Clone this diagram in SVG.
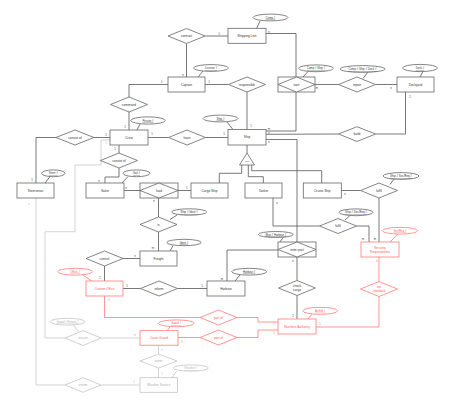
<svg xmlns="http://www.w3.org/2000/svg" width="454" height="406" viewBox="0 0 454 406">
<style>
text{font-family:"Liberation Sans",Arial,sans-serif;text-anchor:middle;dominant-baseline:central;}
.e rect,.e polygon,.r ellipse,.a ellipse{fill:#fff;stroke:#666;stroke-width:0.8}
.e text{font-size:3.2px;fill:#333}
.a text{font-size:2.8px;fill:#333;text-decoration:underline}
.red rect,.red polygon,.red ellipse{stroke:#ff7b7b !important}
.red text{fill:#ff5a5a !important}
.gr rect,.gr polygon,.gr ellipse{stroke:#c4c4c4 !important}
.gr text{fill:#b0b0b0 !important}
.c polyline,.c line{fill:none;stroke:#555;stroke-width:0.8}
.c .rl{stroke:#ff7b7b}
.c .gl{stroke:#c8c8c8}
.lb text{font-size:2.8px;fill:#444}
.lb .rt{fill:#ff6a6a}
.lb .gt{fill:#b8b8b8}
</style>
<rect width="454" height="406" fill="#fff"/>
<g id="connectors" class="c">
<polyline points="205,36 228,36"/>
<polyline points="186.5,43.5 186.5,77"/>
<polyline points="266,33.5 296,33.5 296,77"/>
<polyline points="168,84.5 129,84.5 129,97"/>
<polyline points="205,84.5 228.5,84.5"/>
<polyline points="247,92 247,129.5"/>
<polyline points="315,84.5 338.5,84.5"/>
<polyline points="375.5,84.5 397,84.5"/>
<polyline points="405.5,92 405.5,134 375.5,134"/>
<polyline points="296,92 296,131 266,131"/>
<polyline points="266,134.3 338.5,134"/>
<polyline points="266,139.5 297,139.5 297,242"/>
<polyline points="129,112 129,130"/>
<polyline points="94,137.5 110,137.5"/>
<polyline points="56,137.5 36,137.5 36,183"/>
<polyline points="119,145 119,153"/>
<polyline points="119,168 119,177 105,177 105,183"/>
<polyline points="148,137.5 168.5,137.5"/>
<polyline points="205.5,137.5 228,137.5"/>
<polyline points="247,145 247,153"/>
<polyline points="241.7,165 241.7,173.3 219.3,173.3 219.3,183"/>
<polyline points="248.3,165 248.3,176.7 263.3,176.7 263.3,183"/>
<polyline points="251.7,165 251.7,170.7 321.7,170.7 321.7,183"/>
<polyline points="124,190.5 140,190.5"/>
<polyline points="178,190.5 191,190.5"/>
<polyline points="158.5,198 158.5,217"/>
<polyline points="158.5,232 158.5,251"/>
<polyline points="341,190.5 360.5,190.5"/>
<polyline points="379,198 379,242"/>
<polyline points="273,198 273,226 319.5,226"/>
<polyline points="356.5,226 369,226 369,242"/>
<polyline points="123,258.5 140,258.5"/>
<polyline points="104.5,266 104.5,281"/>
<polyline points="123,288.5 140.5,288.5"/>
<polyline points="177.5,288.5 207,288.5"/>
<polyline points="227,281 227,250 278,250"/>
<polyline points="297,257 297,280.5"/>
<polyline points="297,295.5 297,319"/>
<polyline class="rl" points="379,257 379,281.5"/>
<polyline class="rl" points="379,296.5 379,327 316,327"/>
<polyline class="rl" points="104.5,296 104.5,317.5 200,317.5"/>
<polyline class="rl" points="237,317.5 258,317.5 258,322 278,322"/>
<polyline class="rl" points="178,337.5 200,337.5"/>
<polyline class="rl" points="237,337.5 258,337.5 258,330 278,330"/>
<polyline class="gl" points="110,140 101,140 101,165 75,165 75,231.7 45,231.7 45,338 65,338"/>
<polyline class="gl" points="101,338 140,338"/>
<polyline class="gl" points="36,198 36,385 65,385"/>
<polyline class="gl" points="101,385 140,385"/>
<polyline class="gl" points="158.5,345 158.5,354"/>
<polyline class="gl" points="158.5,368 158.5,378"/>
<line x1="260" y1="21" x2="256.7" y2="28.3"/>
<line x1="203" y1="71" x2="198" y2="77"/>
<line x1="308" y1="71.5" x2="303" y2="77"/>
<line x1="368" y1="72" x2="363" y2="78.5"/>
<line x1="423" y1="71.5" x2="420" y2="77"/>
<line x1="140" y1="124" x2="137" y2="130"/>
<line x1="226.7" y1="121.7" x2="233" y2="129.5"/>
<line x1="50" y1="176.5" x2="45" y2="183"/>
<line x1="128" y1="176.5" x2="122" y2="183"/>
<line x1="394" y1="179" x2="390" y2="184.5"/>
<line x1="350" y1="215.5" x2="345" y2="220"/>
<line x1="177" y1="215" x2="170" y2="219.5"/>
<line x1="173" y1="245.7" x2="170" y2="251"/>
<line x1="283" y1="237.5" x2="280" y2="242"/>
<line x1="240" y1="275" x2="235" y2="281"/>
<line class="rl" x1="398" y1="234" x2="390" y2="242"/>
<line class="rl" x1="83" y1="275" x2="91.7" y2="281"/>
<line class="rl" x1="311.7" y1="314.3" x2="308" y2="319"/>
<line class="rl" x1="170" y1="326.7" x2="167" y2="331"/>
<line class="gl" x1="73.3" y1="325" x2="78.3" y2="331.5"/>
<line class="gl" x1="176.7" y1="371" x2="171.7" y2="378"/>
</g>
<g id="edge-labels" class="lb">
<text x="219" y="34">1</text><text x="183" y="75">n</text><text x="269" y="31.5">n</text>
<text x="161.7" y="82">1</text><text x="209" y="82">1</text><text x="317" y="87.5">m</text>
<text x="391" y="87.5">n</text><text x="410" y="96.5">1</text><text x="125" y="127">1</text>
<text x="106" y="134.5">1</text><text x="32" y="179.5">1</text><text x="115" y="148.5">1</text>
<text x="99" y="180.5">n</text><text x="152" y="134">1</text><text x="224" y="134">1</text>
<text x="251" y="126">1</text><text x="269" y="128.5">m</text><text x="269" y="132.8">n</text>
<text x="269" y="141.5">n</text><text x="345" y="193.5">n</text><text x="186.7" y="187.5">1</text>
<text x="126" y="187.5">n</text><text x="154" y="201">n</text><text x="153" y="247.5">m</text>
<text x="135" y="255.5">n</text><text x="100" y="277.5">1</text><text x="127" y="285.5">1</text>
<text x="202" y="285.5">1</text><text x="222" y="278.5">m</text><text x="277" y="202.5">n</text>
<text x="293" y="260.5">n</text><text x="293" y="316">1</text><text x="363" y="238.5">m</text>
<text x="375" y="238.5">m</text>
<text class="rt" x="377" y="260.5">n</text><text class="rt" x="320" y="323.5">1</text>
<text class="rt" x="109" y="299.5">1</text><text class="rt" x="274" y="324">1</text>
<text class="rt" x="274" y="333">1</text><text class="rt" x="182" y="342">1</text>
<text class="gt" x="106" y="143">1</text><text class="gt" x="29" y="203.5">n</text>
<text class="gt" x="135" y="334.5">m</text><text class="gt" x="134" y="381.5">1</text>
<text class="gt" x="162" y="349.5">n</text><text class="gt" x="162" y="373.5">1</text>
</g>
<g id="shipping-line" class="e"><rect x="228" y="28.3" width="38" height="15"/><text x="247" y="35.8">Shipping Line</text></g>
<g id="captain" class="e"><rect x="168" y="77" width="37" height="15"/><text x="186.5" y="84.5">Captain</text></g>
<g id="dockyard" class="e"><rect x="397" y="77" width="37" height="15"/><text x="415.5" y="84.5">Dockyard</text></g>
<g id="crew" class="e"><rect x="110" y="130" width="38" height="15"/><text x="129" y="137.5">Crew</text></g>
<g id="ship" class="e"><rect x="228" y="129.5" width="38" height="15.5"/><text x="247" y="137.3">Ship</text></g>
<g id="steersman" class="e"><rect x="17" y="183" width="37" height="15"/><text x="35.5" y="190.5">Steersman</text></g>
<g id="sailor" class="e"><rect x="86" y="183" width="38" height="15"/><text x="105" y="190.5">Sailor</text></g>
<g id="cargo-ship" class="e"><rect x="191" y="183" width="37" height="15"/><text x="209.5" y="190.5">Cargo Ship</text></g>
<g id="tanker" class="e"><rect x="245" y="183" width="37" height="15"/><text x="263.5" y="190.5">Tanker</text></g>
<g id="cruise-ship" class="e"><rect x="303.3" y="183" width="38" height="15"/><text x="322.3" y="190.5">Cruise Ship</text></g>
<g id="freight" class="e"><rect x="140" y="251" width="37" height="15"/><text x="158.5" y="258.5">Freight</text></g>
<g id="harbour" class="e"><rect x="207" y="281" width="38" height="15"/><text x="226" y="288.5">Harbour</text></g>
<g id="custom-office" class="e red"><rect x="86" y="281" width="37" height="15"/><text x="104.5" y="288.5">Custom Office</text></g>
<g id="security-requirements" class="e red"><rect x="361" y="242" width="38" height="15"/><text x="380" y="247.5">Security</text><text x="380" y="251.5">Requirements</text></g>
<g id="maritime-authority" class="e red"><rect x="278" y="319" width="38" height="15"/><text x="297" y="326.5">Maritime Authority</text></g>
<g id="coast-guard" class="e red"><rect x="140" y="330.7" width="38" height="14.5"/><text x="159" y="338">Coast Guard</text></g>
<g id="weather-service" class="e gr"><rect x="140" y="377.7" width="37.5" height="14.6"/><text x="158.7" y="385">Weather Service</text></g>
<g id="own" class="e"><rect x="278" y="77" width="37" height="15"/><polygon points="278,84.5 296.5,77 315,84.5 296.5,92"/><text x="296.5" y="84.5">own</text></g>
<g id="load" class="e"><rect x="140" y="183" width="38" height="15"/><polygon points="140,190.5 159,183 178,190.5 159,198"/><text x="159" y="190.5">load</text></g>
<g id="enter-port" class="e"><rect x="278" y="242" width="38" height="15"/><polygon points="278,249.5 297,242 316,249.5 297,257"/><text x="297" y="249.5">enter port</text></g>
<g id="isa" class="e"><polygon points="247,153 239.5,165 254.5,165"/><text x="247" y="161.5" style="font-size:2.4px">is a</text></g>
<g id="contract" class="e"><polygon points="168,36 186.5,28.5 205,36 186.5,43.5"/><text x="186.5" y="36">contract</text></g>
<g id="responsible" class="e"><polygon points="228.5,84.5 247,77 265.5,84.5 247,92"/><text x="247" y="84.5">responsible</text></g>
<g id="repair" class="e"><polygon points="338.5,84.5 357,77 375.5,84.5 357,92"/><text x="357" y="84.5">repair</text></g>
<g id="command" class="e"><polygon points="110.5,104.5 129,97 147.5,104.5 129,112"/><text x="129" y="104.5">command</text></g>
<g id="consist-of-1" class="e"><polygon points="56,137.5 75,130 94,137.5 75,145"/><text x="75" y="137.5">consist of</text></g>
<g id="have" class="e"><polygon points="168.5,137.5 187,130 205.5,137.5 187,145"/><text x="187" y="137.5">have</text></g>
<g id="build" class="e"><polygon points="338.5,134 357,126.7 375.5,134 357,141.5"/><text x="357" y="134">build</text></g>
<g id="consist-of-2" class="e"><polygon points="100.5,160.5 119,153 137.5,160.5 119,168"/><text x="119" y="160.5">consist of</text></g>
<g id="fulfil-1" class="e"><polygon points="360.5,190.5 379,183 397.5,190.5 379,198"/><text x="379" y="190.5">fulfil</text></g>
<g id="is" class="e"><polygon points="140,224.5 158.5,217 177,224.5 158.5,232"/><text x="158.5" y="224.5">is</text></g>
<g id="fulfil-2" class="e"><polygon points="319.5,226 338,218.5 356.5,226 338,233.5"/><text x="338" y="226">fulfil</text></g>
<g id="control" class="e"><polygon points="86,258.5 104.5,251 123,258.5 104.5,266"/><text x="104.5" y="258.5">control</text></g>
<g id="inform-1" class="e"><polygon points="140.5,288.5 159,281 177.5,288.5 159,296"/><text x="159" y="288.5">inform</text></g>
<g id="check-cargo" class="e"><polygon points="278.5,288 297,280.5 315.5,288 297,295.5"/><text x="297" y="286">check</text><text x="297" y="290">cargo</text></g>
<g id="set-standard" class="e red"><polygon points="360.5,289 379,281.5 397.5,289 379,296.5"/><text x="379" y="287">set</text><text x="379" y="291">standard</text></g>
<g id="part-of-1" class="e red"><polygon points="200,317.5 218.5,310 237,317.5 218.5,325"/><text x="218.5" y="317.5">part of</text></g>
<g id="part-of-2" class="e red"><polygon points="200,337.5 218.5,330 237,337.5 218.5,345"/><text x="218.5" y="337.5">part of</text></g>
<g id="rescue" class="e gr"><polygon points="65,338 83,330.7 101,338 83,345.5"/><text x="83" y="338">rescue</text></g>
<g id="storm" class="e gr"><polygon points="140,361 158.5,354 177,361 158.5,368"/><text x="158.5" y="361">storm</text></g>
<g id="inform-2" class="e gr"><polygon points="65,385 83,377.7 101,385 83,392.3"/><text x="83" y="385">inform</text></g>
<g id="att-comp" class="a"><ellipse cx="270.5" cy="17.5" rx="17.5" ry="3.4"/><text x="270.5" y="17.5">Comp #</text></g>
<g id="att-license" class="a"><ellipse cx="211" cy="68" rx="17.5" ry="3.4"/><text x="211" y="68">License #</text></g>
<g id="att-comp-ship" class="a"><ellipse cx="316" cy="68.3" rx="17.5" ry="3.4"/><text x="316" y="68.3">Comp # Ship #</text></g>
<g id="att-comp-ship-dock" class="a"><ellipse cx="362.5" cy="69" rx="22.5" ry="3.4"/><text x="362.5" y="69">Comp # Ship # Dock #</text></g>
<g id="att-dock" class="a"><ellipse cx="420" cy="68" rx="17.5" ry="3.6"/><text x="420" y="68">Dock #</text></g>
<g id="att-person" class="a"><ellipse cx="148" cy="120.5" rx="17.3" ry="3.6"/><text x="148" y="120.5">Person #</text></g>
<g id="att-ship" class="a"><ellipse cx="220.5" cy="118.5" rx="17.5" ry="3.4"/><text x="220.5" y="118.5">Ship #</text></g>
<g id="att-steer" class="a"><ellipse cx="53.3" cy="173.3" rx="11.7" ry="3.4"/><text x="53.3" y="173.3">Steer #</text></g>
<g id="att-sail" class="a"><ellipse cx="136.5" cy="173.3" rx="13.5" ry="3.4"/><text x="136.5" y="173.3">Sail #</text></g>
<g id="att-ship-secreq-1" class="a"><ellipse cx="401" cy="176" rx="18" ry="3.4"/><text x="401" y="176">Ship # Sec/Req #</text></g>
<g id="att-ship-secreq-2" class="a"><ellipse cx="356" cy="212.3" rx="17" ry="3.4"/><text x="356" y="212.3">Ship # Sec/Req #</text></g>
<g id="att-secreq" class="a red"><ellipse cx="400" cy="230.7" rx="17.7" ry="3.4"/><text x="400" y="230.7">Sec/Req #</text></g>
<g id="att-ship-ident" class="a"><ellipse cx="189.2" cy="212" rx="17.5" ry="3.2"/><text x="189.2" y="212">Ship # Ident #</text></g>
<g id="att-ident" class="a"><ellipse cx="184" cy="242.5" rx="17.2" ry="3.2"/><text x="184" y="242.5">Ident #</text></g>
<g id="att-ship-harbour" class="a"><ellipse cx="275.8" cy="234.5" rx="17.5" ry="3"/><text x="275.8" y="234.5">Ship # Harbour #</text></g>
<g id="att-harbour" class="a"><ellipse cx="249.2" cy="271.7" rx="17.5" ry="3.4"/><text x="249.2" y="271.7">Harbour #</text></g>
<g id="att-office" class="a red"><ellipse cx="75.2" cy="271.7" rx="17.5" ry="3.4"/><text x="75.2" y="271.7">Office #</text></g>
<g id="att-auth" class="a red"><ellipse cx="320.2" cy="310.8" rx="17.5" ry="3.5"/><text x="320.2" y="310.8">AuthId #</text></g>
<g id="att-guard" class="a red"><ellipse cx="176.2" cy="323.3" rx="17.8" ry="3.4"/><text x="176.2" y="323.3">Guard #</text></g>
<g id="att-guard-person" class="a gr"><ellipse cx="67.5" cy="321.7" rx="17.5" ry="3.4"/><text x="67.5" y="321.7">Guard # Person #</text></g>
<g id="att-weather" class="a gr"><ellipse cx="190.8" cy="368" rx="17.5" ry="3.1"/><text x="190.8" y="368">Weather #</text></g>
</svg>
